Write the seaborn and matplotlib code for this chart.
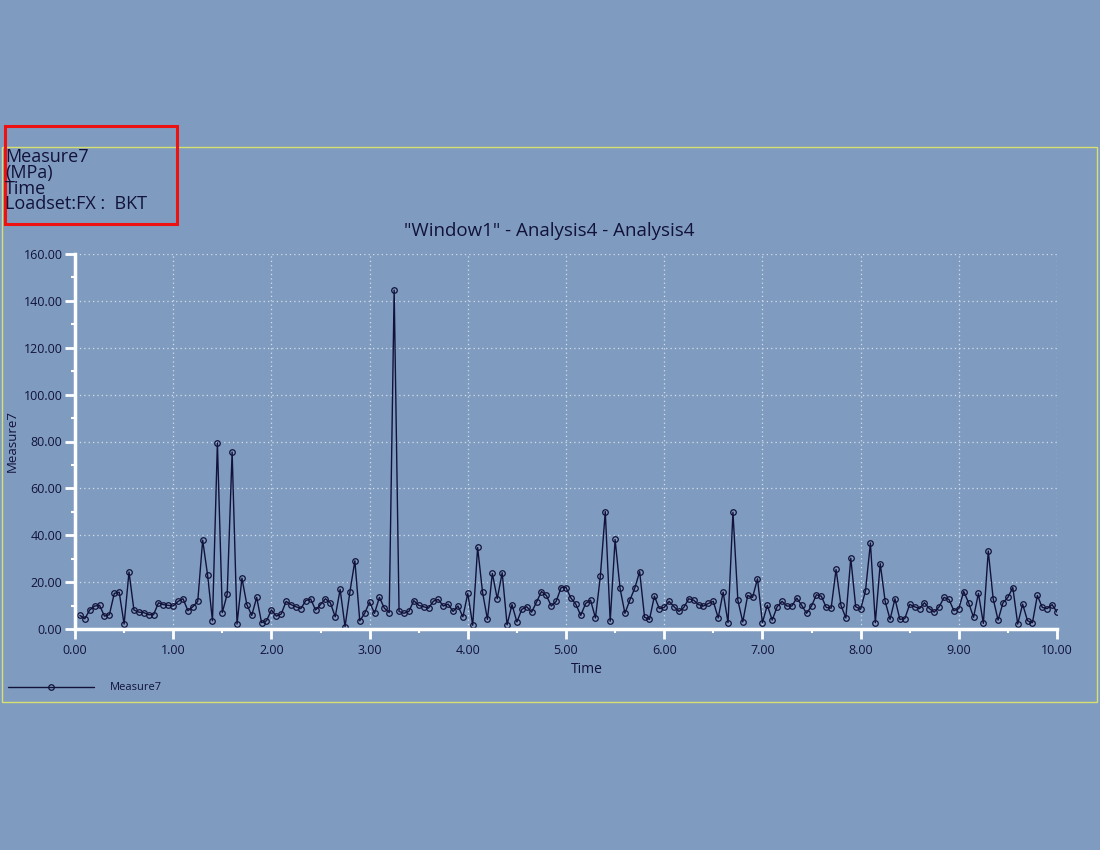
import numpy as np
import pandas as pd
import matplotlib
matplotlib.use("Agg")
import matplotlib.pyplot as plt
from matplotlib.patches import Rectangle
from matplotlib.ticker import MultipleLocator, FormatStrFormatter
import seaborn as sns

# ---------------- data ----------------
time = [round(0.05 * (i + 1), 2) for i in range(200)]
measure7 = [
    5.8, 4.4, 8.1, 9.8, 10.1, 5.5, 6.1, 15.2, 15.7, 2.1,
    24.3, 8.1, 7.2, 7.0, 6.1, 6.1, 11.2, 10.4, 10.1, 9.8,
    11.8, 12.9, 7.8, 9.5, 11.8, 37.9, 23.1, 3.5, 79.4, 7.0,
    14.9, 75.5, 2.1, 21.7, 10.4, 5.8, 13.5, 2.7, 3.5, 8.1,
    5.5, 6.4, 11.8, 10.4, 9.5, 8.7, 12.1, 12.8, 8.1, 10.4,
    12.9, 11.2, 5.2, 16.9, 1.0, 16.0, 29.1, 3.5, 6.7, 11.5,
    6.7, 13.5, 8.9, 7.0, 144.6, 7.5, 6.7, 7.5, 12.1, 10.1,
    9.5, 8.9, 11.9, 12.6, 9.8, 10.6, 7.5, 9.8, 5.2, 15.2,
    1.6, 34.8, 15.7, 4.1, 23.7, 12.9, 24.0, 1.8, 10.4, 3.0,
    8.4, 9.5, 7.2, 11.5, 16.0, 14.3, 9.8, 11.8, 17.7, 17.7,
    13.2, 10.6, 5.8, 10.9, 12.3, 4.7, 22.6, 50.1, 3.3, 38.2,
    17.4, 6.7, 12.3, 17.4, 24.5, 5.0, 4.1, 14.0, 8.7, 9.2,
    11.8, 9.5, 7.5, 9.2, 12.9, 12.3, 10.4, 9.8, 10.9, 11.8,
    4.7, 15.7, 2.7, 49.8, 12.3, 3.0, 14.3, 13.5, 21.4, 2.7,
    10.1, 3.8, 9.5, 11.8, 9.8, 9.8, 13.2, 10.1, 6.7, 9.8,
    14.6, 14.0, 9.2, 8.9, 25.4, 10.1, 4.7, 30.2, 9.5, 8.4,
    16.3, 36.7, 2.7, 27.9, 11.8, 4.1, 12.9, 4.1, 4.4, 10.5,
    9.5, 8.7, 11.2, 8.7, 7.2, 9.5, 13.5, 12.6, 7.8, 8.7,
    16.0, 11.2, 5.0, 15.2, 2.4, 33.3, 12.9, 3.8, 11.2, 13.5,
    17.7, 2.1, 10.6, 3.5, 2.7, 14.3, 9.2, 8.7, 10.4, 7.2,
]
series_name = "Measure7"
title_text = '"Window1" - Analysis4 - Analysis4'
header_lines = ["Measure7", "(MPa)", "Time", "Loadset:FX :  BKT"]
x_label = "Time"
y_label = "Measure7"

df = pd.DataFrame({"Time": time, series_name: measure7})

# ---------------- style ----------------
BG = "#7f9cc0"
NAVY = "#12123a"
sns.set_style("white", {"axes.facecolor": BG, "figure.facecolor": BG})
plt.rcParams["font.family"] = ["Open Sans", "DejaVu Sans"]

fig = plt.figure(figsize=(11, 8.5), dpi=100)
fig.patch.set_facecolor(BG)
ax = fig.add_axes([75 / 1100, 1 - 629 / 850, (1057 - 75) / 1100, (629 - 254) / 850])
ax.set_facecolor(BG)

sns.lineplot(
    data=df, x="Time", y=series_name, ax=ax, color=NAVY, linewidth=1.0,
    marker="o", markersize=4.0, markerfacecolor="none", markeredgecolor=NAVY,
    markeredgewidth=0.9, label=series_name, legend=False,
)

ax.set_xlim(0, 10)
ax.set_ylim(0, 160)
ax.xaxis.set_major_locator(MultipleLocator(1))
ax.xaxis.set_minor_locator(MultipleLocator(0.5))
ax.yaxis.set_major_locator(MultipleLocator(20))
ax.yaxis.set_minor_locator(MultipleLocator(10))
ax.xaxis.set_major_formatter(FormatStrFormatter("%.2f"))
ax.yaxis.set_major_formatter(FormatStrFormatter("%.2f"))

ax.grid(True, which="major", color="#d4deea", linestyle=(0, (1, 2.5)), linewidth=0.9)
ax.set_axisbelow(True)

for s in ["top", "right"]:
    ax.spines[s].set_visible(False)
for s in ["left", "bottom"]:
    ax.spines[s].set_color("white")
    ax.spines[s].set_linewidth(2.5)

ax.tick_params(axis="both", which="both", bottom=True, left=True, top=False, right=False)
ax.tick_params(axis="both", which="major", length=7, width=2, color="white",
               labelcolor=NAVY, labelsize=9, pad=2, direction="out")
ax.tick_params(axis="both", which="minor", length=3, width=1.5, color="white",
               direction="out")
ax.tick_params(axis="x", which="major", pad=4)

ax.set_xlabel(x_label, fontsize=10, color=NAVY)
ax.set_ylabel(y_label, fontsize=9.5, color=NAVY)
ax.xaxis.set_label_coords((587 - 75) / (1057 - 75), -(662 - 629) / (629 - 254))
ax.yaxis.set_label_coords(-(75 - 19) / (1057 - 75), 0.5)

# title
fig.text(549 / 1100, 1 - 231 / 850, title_text, ha="center", va="center",
         fontsize=13.5, color=NAVY)

# header block (one multi-line text, tight spacing as in the reference)
fig.text(5 / 1100, 1 - 148 / 850, "\n".join(header_lines), ha="left", va="top",
         fontsize=13, color=NAVY, linespacing=0.84)

# frames
fig.patches.append(Rectangle((2 / 1100, 1 - 702 / 850), 1095 / 1100, 555 / 850,
                             transform=fig.transFigure, fill=False,
                             edgecolor="#d8e070", linewidth=1.0))
fig.patches.append(Rectangle((5 / 1100, 1 - 224 / 850), 172 / 1100, 98 / 850,
                             transform=fig.transFigure, fill=False,
                             edgecolor="#ee1111", linewidth=2.2))

# legend
handles, labels = ax.get_legend_handles_labels()
leg = fig.legend(handles, labels, loc="center left",
                 bbox_to_anchor=(8 / 1100, 1 - 688 / 850), frameon=False,
                 fontsize=8, handlelength=7.7, handletextpad=1.5,
                 borderpad=0, borderaxespad=0, numpoints=1)
for t in leg.get_texts():
    t.set_color(NAVY)

fig.savefig("out.png", dpi=100, facecolor=BG)
